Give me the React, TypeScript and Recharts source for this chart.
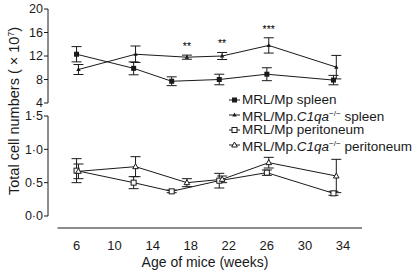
import React from 'react';
import { LineChart, Line, XAxis, YAxis, ErrorBar, ReferenceLine, ReferenceDot, Legend, Label } from 'recharts';

// Weeks of age (knockout points sit slightly right of the wild-type ones)
const weeksWt = [6, 12, 16, 21, 26, 33];
const weeksKo = [6.2, 12.2, 17.6, 21.3, 26.2, 33.3];

// Spleen, x 10^7 cells
const spleenWt = [12.3, 9.9, 7.7, 8.0, 8.9, 7.9];
const spleenWtErr = [1.3, 1.1, 0.75, 0.9, 1.1, 0.8];
const spleenKo = [9.7, 12.3, 11.8, 12.0, 13.8, 10.1];
const spleenKoErr = [0.85, 1.4, 0.35, 0.6, 1.3, 2.0];

// Peritoneum, x 10^7 cells
const peritWt = [0.68, 0.5, 0.37, 0.53, 0.65, 0.34];
const peritWtErr = [0.18, 0.09, 0.02, 0.11, 0.04, 0.03];
const peritKo = [0.67, 0.74, 0.5, 0.55, 0.8, 0.6];
const peritKoErr = [0.11, 0.15, 0.06, 0.05, 0.08, 0.25];

// Significance marks over the knockout spleen series
const stars = ['', '', '**', '**', '***', ''];

const xTicks = [6, 10, 14, 18, 22, 26, 30, 34];
const topTicks = [4, 8, 12, 16, 20];
const bottomTicks = [0, 0.5, 1, 1.5];

const FONT = '"Liberation Sans", Arial, Helvetica, sans-serif';
const INK = '#1a1a1a';

const toRows = (xs: number[], ys: number[], es: number[]) =>
  xs.map((x, i) => ({ x, y: ys[i], err: es[i] }));

// marker shapes
const marker = (kind: string) => (props: any) => {
  const { cx, cy, index } = props;
  if (cx == null || cy == null) return <g key={index} />;
  if (kind === 'sqFill') return <rect key={index} x={cx - 2.5} y={cy - 2.5} width={5} height={5} fill={INK} />;
  if (kind === 'sqOpen') return <rect key={index} x={cx - 2.5} y={cy - 2.5} width={5} height={5} fill="#fff" stroke={INK} strokeWidth={1} />;
  if (kind === 'triFill')
    return <polygon key={index} points={`${cx},${cy - 2.5} ${cx + 2.2},${cy + 1.5} ${cx - 2.2},${cy + 1.5}`} fill={INK} />;
  return (
    <polygon key={index} points={`${cx},${cy - 3} ${cx + 2.8},${cy + 2} ${cx - 2.8},${cy + 2}`} fill="#fff" stroke={INK} strokeWidth={1} />
  );
};

const legendItems = [
  { kind: 'sqFill', name: 'MRL/Mp', ko: false, tissue: 'spleen' },
  { kind: 'triFill', name: 'MRL/Mp.', ko: true, tissue: 'spleen' },
  { kind: 'sqOpen', name: 'MRL/Mp', ko: false, tissue: 'peritoneum' },
  { kind: 'triOpen', name: 'MRL/Mp.', ko: true, tissue: 'peritoneum' },
];

const renderLegend = () => (
  <div style={{ fontFamily: FONT, fontSize: 13.5, color: INK }}>
    {legendItems.map((it) => (
      <div key={it.kind} style={{ height: 15, lineHeight: '15px', whiteSpace: 'nowrap', display: 'flex', alignItems: 'center' }}>
        <svg width={13} height={10} style={{ marginRight: 1 }}>
          <line x1={1} y1={5} x2={12} y2={5} stroke={INK} strokeWidth={1} />
          {marker(it.kind)({ cx: 6.5, cy: 5, index: 0 })}
        </svg>
        <span>
          {it.name}
          {it.ko && (
            <>
              <i>C1qa</i>
              <sup style={{ fontSize: 8, verticalAlign: 5 }}>−/−</sup>
            </>
          )}{' '}
          {it.tissue}
        </span>
      </div>
    ))}
  </div>
);

const tickStyle = { fontSize: 12.5, fill: INK, fontFamily: FONT };
const dotFmt = (v: number) => v.toFixed(1).replace('.', '·');

const App: React.FC = () => {
  const sWt = toRows(weeksWt, spleenWt, spleenWtErr);
  const sKo = toRows(weeksKo, spleenKo, spleenKoErr);
  const pWt = toRows(weeksWt, peritWt, peritWtErr);
  const pKo = toRows(weeksKo, peritKo, peritKoErr);

  return (
    <div style={{ position: 'absolute', left: 0, top: 0, width: 420, height: 272, background: '#fff', fontFamily: FONT }}>
      {/* upper panel: spleen */}
      <div style={{ position: 'absolute', left: 0, top: 0 }}>
        <LineChart width={420} height={272} margin={{ top: 9, right: 58, bottom: 169, left: 0 }}>
          <XAxis dataKey="x" type="number" domain={[3, 36]} hide />
          <YAxis
            type="number"
            domain={[4, 20]}
            ticks={topTicks}
            width={48}
            tickSize={4}
            tickMargin={1}
            tick={tickStyle}
            stroke={INK}
            axisLine={{ stroke: INK }}
            tickLine={{ stroke: INK }}
          >
            <Label
              content={() => (
                <text transform="rotate(-90)" x={-111} y={19} textAnchor="middle" fontSize={14.5} fill={INK} fontFamily={FONT}>
                  Total cell numbers ( × 10<tspan fontSize={8.5} dy={-5}>7</tspan>
                  <tspan dy={5}>)</tspan>
                </text>
              )}
            />
          </YAxis>
          <Line data={sWt} dataKey="y" type="linear" stroke={INK} strokeWidth={1} dot={marker('sqFill')} isAnimationActive={false}>
            <ErrorBar dataKey="err" width={5} stroke={INK} strokeWidth={1} direction="y" />
          </Line>
          <Line data={sKo} dataKey="y" type="linear" stroke={INK} strokeWidth={1} dot={marker('triFill')} isAnimationActive={false}>
            <ErrorBar dataKey="err" width={5} stroke={INK} strokeWidth={1} direction="y" />
          </Line>
          {stars.map((s, i) =>
            s ? (
              <ReferenceDot
                key={`star-${i}`}
                x={weeksKo[i]}
                y={spleenKo[i] + spleenKoErr[i]}
                r={0}
                fill="none"
                stroke="none"
              >
                <Label
                  content={(p: any) => (
                    <text x={p.viewBox.cx ?? p.viewBox.x} y={(p.viewBox.cy ?? p.viewBox.y) - 5} textAnchor="middle" fontSize={10.5} fill="#000" fontFamily={FONT}>
                      {s}
                    </text>
                  )}
                />
              </ReferenceDot>
            ) : null
          )}
        </LineChart>
      </div>

      {/* lower panel: peritoneum */}
      <div style={{ position: 'absolute', left: 0, top: 0 }}>
        <LineChart width={420} height={272} margin={{ top: 116, right: 58, bottom: 0, left: 0 }}>
          <XAxis
            dataKey="x"
            type="number"
            domain={[3, 36]}
            ticks={xTicks}
            height={44}
            axisLine={false}
            tickLine={false}
            tickMargin={7}
            tick={{ ...tickStyle, fontSize: 13 }}
          >
            <Label value="Age of mice (weeks)" position="insideBottom" offset={5} fontSize={14} fill={INK} fontFamily={FONT} />
          </XAxis>
          <YAxis
            type="number"
            domain={[-0.18, 1.5]}
            ticks={bottomTicks}
            width={48}
            tickSize={4}
            tickMargin={1}
            tick={tickStyle}
            tickFormatter={dotFmt}
            axisLine={false}
            tickLine={{ stroke: INK }}
          />
          <ReferenceLine segment={[{ x: 3, y: 0 }, { x: 3, y: 1.5 }]} stroke={INK} ifOverflow="visible" />
          <ReferenceLine segment={[{ x: 4, y: -0.18 }, { x: 36, y: -0.18 }]} stroke={INK} ifOverflow="visible" />
          <Line data={pWt} dataKey="y" type="linear" stroke={INK} strokeWidth={1} dot={marker('sqOpen')} isAnimationActive={false}>
            <ErrorBar dataKey="err" width={5} stroke={INK} strokeWidth={1} direction="y" />
          </Line>
          <Line data={pKo} dataKey="y" type="linear" stroke={INK} strokeWidth={1} dot={marker('triOpen')} isAnimationActive={false}>
            <ErrorBar dataKey="err" width={5} stroke={INK} strokeWidth={1} direction="y" />
          </Line>
          <Legend
            layout="vertical"
            align="center"
            verticalAlign="middle"
            content={renderLegend}
            wrapperStyle={{ left: 228, top: 92, width: 192, height: 62 }}
          />
        </LineChart>
      </div>
    </div>
  );
};

export default App;
